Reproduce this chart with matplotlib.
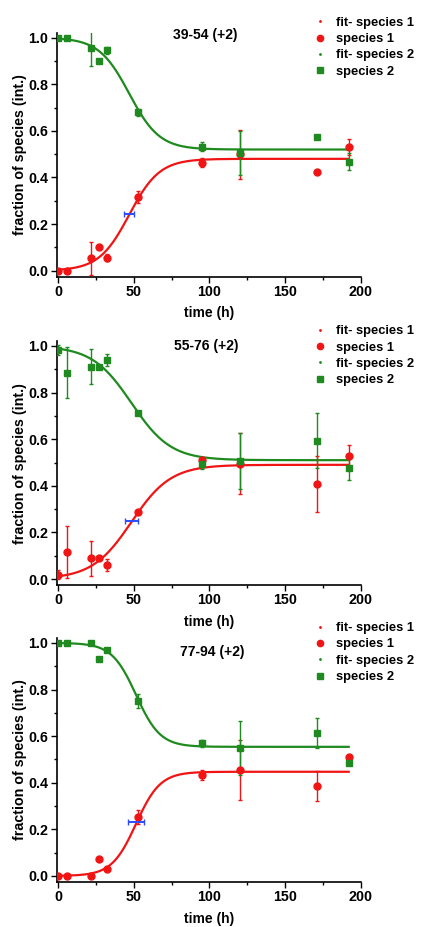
import matplotlib.pyplot as plt
from matplotlib.lines import Line2D
import numpy as np

# tempos de medida (h)
t = [0, 6, 22, 27, 32, 53, 95, 120, 171, 192]

# painel 1: 39-54 (+2)
p1_s1 = [0.0, 0.0, 0.053, 0.10, 0.056, 0.315, 0.463, 0.50, 0.425, 0.532]
p1_s1_err = [0.0, 0.0, 0.07, 0.0, 0.015, 0.025, 0.02, 0.105, 0.0, 0.035]
p1_s2 = [1.0, 1.0, 0.954, 0.90, 0.947, 0.68, 0.532, 0.504, 0.575, 0.468]
p1_s2_err = [0.0, 0.0, 0.074, 0.0, 0.015, 0.015, 0.02, 0.095, 0.0, 0.035]
p1_fit = {'x0': 47.0, 'dx': 10.0, 'a2_s1': 0.48, 'a2_s2': 0.52}
p1_x0_err = 3.3
p1_mid = 0.243

# painel 2: 55-76 (+2)
p2_s1 = [0.019, 0.116, 0.09, 0.09, 0.059, 0.287, 0.51, 0.495, 0.407, 0.526]
p2_s1_err = [0.02, 0.113, 0.075, 0.0, 0.025, 0.0, 0.0, 0.13, 0.12, 0.05]
p2_s2 = [0.983, 0.886, 0.911, 0.911, 0.94, 0.711, 0.493, 0.508, 0.593, 0.478]
p2_s2_err = [0.02, 0.11, 0.076, 0.0, 0.025, 0.0, 0.02, 0.12, 0.118, 0.053]
p2_fit = {'x0': 48.5, 'dx': 13.0, 'a2_s1': 0.49, 'a2_s2': 0.51}
p2_x0_err = 4.5
p2_mid = 0.247

# painel 3: 77-94 (+2)
p3_s1 = [0.0, 0.0, 0.0, 0.071, 0.031, 0.254, 0.433, 0.454, 0.387, 0.511]
p3_s1_err = [0.0, 0.0, 0.0, 0.0, 0.0, 0.03, 0.02, 0.13, 0.065, 0.0]
p3_s2 = [1.0, 1.0, 1.0, 0.93, 0.969, 0.75, 0.569, 0.55, 0.612, 0.486]
p3_s2_err = [0.0, 0.0, 0.0, 0.0, 0.0, 0.03, 0.015, 0.115, 0.065, 0.0]
p3_fit = {'x0': 51.5, 'dx': 8.0, 'a2_s1': 0.447, 'a2_s2': 0.554}
p3_x0_err = 5.0
p3_mid = 0.233

titulos = ['39-54 (+2)', '55-76 (+2)', '77-94 (+2)']
pos_titulo = [(97, 1.01), (98, 1.0), (101.6, 0.963)]

vermelho = '#f01414'
verde = '#1f8a1f'
azul = '#2a4cff'


def boltzmann(x, a1, a2, x0, dx):
    return a2 + (a1 - a2) / (1 + np.exp((x - x0) / dx))


plt.rcParams['font.family'] = 'Liberation Sans'
plt.rcParams['font.weight'] = 'bold'

fig = plt.figure(figsize=(4.22, 9.27), dpi=100)

paineis = [
    (p1_s1, p1_s1_err, p1_s2, p1_s2_err, p1_fit, p1_x0_err, p1_mid, 0.7017),
    (p2_s1, p2_s1_err, p2_s2, p2_s2_err, p2_fit, p2_x0_err, p2_mid, 0.3691),
    (p3_s1, p3_s1_err, p3_s2, p3_s2_err, p3_fit, p3_x0_err, p3_mid, 0.0488),
]

for i, (s1, s1e, s2, s2e, fit, x0e, mid, base) in enumerate(paineis):
    ax = fig.add_axes([0.134, base, 0.721, 0.2627])

    xf = np.linspace(0, 192, 300)
    ax.plot(xf, boltzmann(xf, 0.0, fit['a2_s1'], fit['x0'], fit['dx']),
            color=vermelho, lw=1.6, zorder=3)
    ax.plot(xf, boltzmann(xf, 1.0, fit['a2_s2'], fit['x0'], fit['dx']),
            color=verde, lw=1.6, zorder=3)

    ax.errorbar(t, s1, yerr=s1e, fmt='o', color=vermelho, ms=5,
                elinewidth=1.0, capsize=1.5, zorder=4)
    ax.errorbar(t, s2, yerr=s2e, fmt='s', color=verde, ms=4.2,
                elinewidth=1.0, capsize=1.5, zorder=4)

    # ponto medio do ajuste (x0) com erro
    ax.errorbar([fit['x0']], [mid], xerr=[x0e], fmt='none', ecolor=azul,
                elinewidth=1.4, capsize=2, zorder=5)

    ax.text(pos_titulo[i][0], pos_titulo[i][1], titulos[i], ha='center',
            va='center', fontsize=10, fontweight='bold')

    ax.set_xlim(-1, 200)
    ax.set_ylim(-0.025, 1.02)
    ax.set_xticks([0, 50, 100, 150, 200])
    ax.set_xticks([25, 75, 125, 175], minor=True)
    ax.set_yticks([0.0, 0.2, 0.4, 0.6, 0.8, 1.0])
    ax.set_yticks([0.1, 0.3, 0.5, 0.7, 0.9], minor=True)
    ax.set_yticklabels(['0.0', '0.2', '0.4', '0.6', '0.8', '1.0'])
    ax.tick_params(axis='both', which='major', direction='out', length=4,
                   width=1, labelsize=10.3, pad=2)
    ax.tick_params(axis='both', which='minor', direction='out', length=2.5,
                   width=1)
    for lbl in ax.get_xticklabels() + ax.get_yticklabels():
        lbl.set_fontweight('bold')
    ax.spines['top'].set_visible(False)
    ax.spines['right'].set_visible(False)
    ax.spines['left'].set_linewidth(1.2)
    ax.spines['bottom'].set_linewidth(1.2)
    ax.set_xlabel('time (h)', fontsize=10, fontweight='bold', labelpad=5.5)
    ax.set_ylabel('fraction of species (int.)', fontsize=10.3,
                  fontweight='bold', labelpad=1)

    handles = [
        Line2D([], [], ls='none', marker='.', ms=2, color=vermelho),
        Line2D([], [], ls='none', marker='o', ms=4.5, color=vermelho),
        Line2D([], [], ls='none', marker='.', ms=2, color=verde),
        Line2D([], [], ls='none', marker='s', ms=4, color=verde),
    ]
    nomes = ['fit- species 1', 'species 1', 'fit- species 2', 'species 2']
    topo = base + 0.2627 + 0.023
    ax.legend(handles, nomes, loc='upper left',
              bbox_to_anchor=(0.73, topo), bbox_transform=fig.transFigure,
              frameon=False, handlelength=1.0,
              handletextpad=0.75, labelspacing=0.33, borderaxespad=0,
              prop={'weight': 'bold', 'size': 9.3})

fig.savefig('out.png', dpi=100)
